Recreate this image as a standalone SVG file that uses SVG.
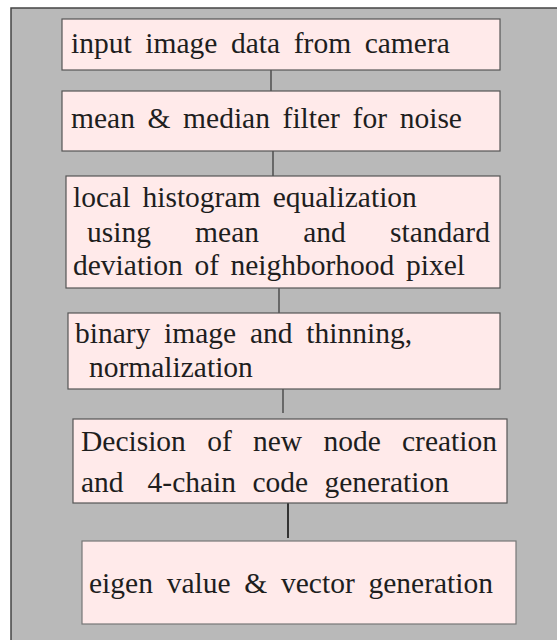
<svg xmlns="http://www.w3.org/2000/svg" width="557" height="640" viewBox="0 0 557 640">
<style>
.bg{fill:#b9b9b9;stroke:#444;stroke-width:1.5}
.box{fill:#ffeaea;stroke:#555;stroke-width:1.2}
.c{stroke:#333;stroke-width:1.2;fill:none}
text{font-family:"Liberation Serif","Times New Roman",serif;font-size:29.5px;fill:#1e1e1e}
</style>
<rect x="0" y="0" width="557" height="640" fill="#ffffff"/>
<rect class="bg" x="11" y="8" width="560" height="650"/>
<g id="connectors">
<line class="c" x1="271" y1="70" x2="271" y2="91"/>
<line class="c" x1="273" y1="151" x2="273" y2="176"/>
<line class="c" x1="279" y1="288" x2="279" y2="313"/>
<line class="c" x1="283" y1="384" x2="283" y2="413"/>
<line class="c" x1="288" y1="503" x2="288" y2="538" style="stroke-width:2"/>
</g>
<g id="node1">
<rect class="box" x="62" y="19" width="438" height="51"/>
<text y="53"><tspan x="71">input</tspan> <tspan x="145.3">image</tspan> <tspan x="231">data</tspan> <tspan x="293.8">from</tspan> <tspan x="364.7">camera</tspan></text>
</g>
<g id="node2">
<rect class="box" x="62" y="91" width="438" height="60"/>
<text y="128"><tspan x="71">mean</tspan> <tspan x="147.5">&amp;</tspan> <tspan x="183.1">median</tspan> <tspan x="282.6">filter</tspan> <tspan x="352.6">for</tspan> <tspan x="399.7">noise</tspan></text>
</g>
<g id="node3">
<rect class="box" x="66" y="176" width="434" height="112"/>
<text y="207"><tspan x="73">local</tspan> <tspan x="142.5">histogram</tspan> <tspan x="272.7">equalization</tspan></text>
<text y="242"><tspan x="87">using</tspan> <tspan x="195.1">mean</tspan> <tspan x="303.2">and</tspan> <tspan x="390">standard</tspan></text>
<text y="275"><tspan x="73">deviation</tspan> <tspan x="194.4">of</tspan> <tspan x="230.5">neighborhood</tspan> <tspan x="406">pixel</tspan></text>
</g>
<g id="node4">
<rect class="box" x="68" y="313" width="432" height="76"/>
<text y="343"><tspan x="75">binary</tspan> <tspan x="164.1">image</tspan> <tspan x="250">and</tspan> <tspan x="306.3">thinning,</tspan></text>
<text x="89" y="377">normalization</text>
</g>
<g id="node5">
<rect class="box" x="73" y="419" width="434" height="84"/>
<text y="451"><tspan x="81">Decision</tspan> <tspan x="207.2">of</tspan> <tspan x="253">new</tspan> <tspan x="323.4">node</tspan> <tspan x="402">creation</tspan></text>
<text y="492"><tspan x="81">and</tspan> <tspan x="147.6">4-chain</tspan> <tspan x="252.4">code</tspan> <tspan x="324.5">generation</tspan></text>
</g>
<g id="node6">
<rect class="box" x="82" y="541" width="434" height="83" style="stroke:#777"/>
<text y="593"><tspan x="89">eigen</tspan> <tspan x="166.7">value</tspan> <tspan x="244.3">&amp;</tspan> <tspan x="281">vector</tspan> <tspan x="368.5">generation</tspan></text>
</g>
</svg>
